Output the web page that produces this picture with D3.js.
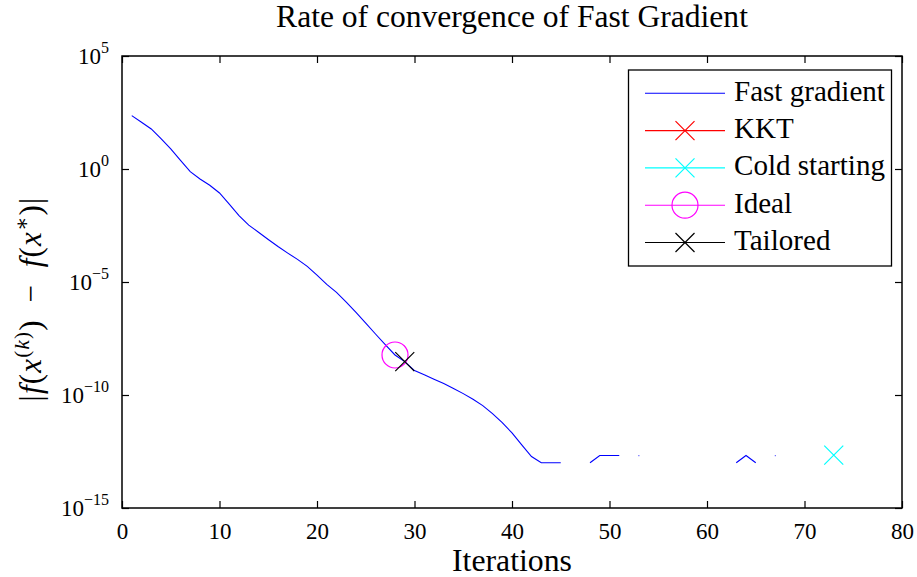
<!DOCTYPE html>
<html>
<head>
<meta charset="utf-8">
<script src="https://cdn.jsdelivr.net/npm/d3@7"></script>
<style>
  html, body { margin: 0; padding: 0; background: #fff; }
  svg text { font-family: "Liberation Serif", "DejaVu Serif", serif; fill: #000; }
</style>
</head>
<body>
<svg id="chart" width="917" height="577"></svg>
<script>
// Fast gradient error |f(x^(k)) - f(x*)| per iteration (0 = exact hit, not drawable on log axis)
const iterations = d3.range(1, 74);
const fastGradient = [
  229, 117, 59, 22, 7.7, 2.4, 0.76, 0.36, 0.19, 0.087,
  0.028, 8.7e-3, 3.3e-3, 1.6e-3, 7.6e-4, 3.7e-4, 1.9e-4, 1.0e-4, 4.9e-5, 2.0e-5,
  7.8e-6, 3.5e-6, 1.3e-6, 4.5e-7, 1.5e-7, 5.0e-8, 1.7e-8, 5.9e-9, 3.0e-9, 1.2e-9,
  7.8e-10, 5.0e-10, 3.2e-10, 1.95e-10, 1.15e-10, 6.5e-11, 3.4e-11, 1.5e-11, 6.0e-12, 2.1e-12,
  6.2e-13, 1.9e-13, 1.0e-13, 1.0e-13, 1.0e-13, 0, 0, 1.0e-13, 2.1e-13, 2.1e-13,
  2.1e-13, 0, 2.1e-13, 0, 0, 0, 0, 0, 0, 0,
  0, 0, 1.0e-13, 2.1e-13, 1.0e-13, 0, 2.1e-13, 0, 0, 0,
  0, 0, 0
];

// Stopping points found by each criterion
const kktIter = [], kktValue = [];
const coldIter = [73], coldValue = [2.2e-13];
const idealIter = [28], idealValue = [5.9e-9];
const tailoredIter = [29], tailoredValue = [3.0e-9];

const xTicks = [0, 10, 20, 30, 40, 50, 60, 70, 80];
const yTickExps = [5, 0, -5, -10, -15];

const legendNames = ["Fast gradient", "KKT", "Cold starting", "Ideal", "Tailored"];
const legendMarkers = ["none", "x", "x", "o", "x"];
const seriesColors = ["#0000ff", "#ff0000", "#00ffff", "#ff00ff", "#000000"];

const svg = d3.select("#chart");
const plotLeft = 122, plotRight = 902, plotTop = 56, plotBottom = 508;

const x = d3.scaleLinear().domain([0, 80]).range([plotLeft, plotRight]);
const y = d3.scaleLog().domain([1e-15, 1e5]).range([plotBottom, plotTop]);

function fitWidth(sel, w) {
  const len = sel.node().getComputedTextLength();
  const fs = parseFloat(sel.attr("font-size"));
  sel.attr("font-size", fs * w / len);
}

// Title
const title = svg.append("text")
  .attr("x", (plotLeft + plotRight) / 2).attr("y", 27)
  .attr("text-anchor", "middle").attr("font-size", 22)
  .text("Rate of convergence of Fast Gradient");
fitWidth(title, 472);

// Axes with inward ticks
const tickLen = 7;
svg.append("g").attr("transform", `translate(0,${plotBottom})`)
  .call(d3.axisBottom(x).tickValues(xTicks).tickSize(-tickLen).tickPadding(29).tickFormat(d3.format("d")))
  .call(g => g.select(".domain").remove())
  .call(g => g.selectAll("line").attr("stroke", "#000").attr("stroke-width", 1.2))
  .call(g => g.selectAll("text").attr("font-size", 23).attr("font-family", "Liberation Serif").attr("fill", "#000").attr("dy", "0.1em"));
svg.append("g").attr("transform", `translate(0,${plotTop})`)
  .call(d3.axisTop(x).tickValues(xTicks).tickSize(-tickLen).tickFormat(""))
  .call(g => g.select(".domain").remove())
  .call(g => g.selectAll("line").attr("stroke", "#000").attr("stroke-width", 1.2));

const yTickVals = yTickExps.map(e => Math.pow(10, e));
svg.append("g").attr("transform", `translate(${plotLeft},0)`)
  .call(d3.axisLeft(y).tickValues(yTickVals).tickSize(-tickLen).tickFormat(""))
  .call(g => g.select(".domain").remove())
  .call(g => g.selectAll("line").attr("stroke", "#000").attr("stroke-width", 1.2));
svg.append("g").attr("transform", `translate(${plotRight},0)`)
  .call(d3.axisRight(y).tickValues(yTickVals).tickSize(-tickLen).tickFormat(""))
  .call(g => g.select(".domain").remove())
  .call(g => g.selectAll("line").attr("stroke", "#000").attr("stroke-width", 1.2));

// Y tick labels as 10^e
yTickExps.forEach(e => {
  const t = svg.append("text")
    .attr("x", 109).attr("y", y(Math.pow(10, e)) + 7.5)
    .attr("text-anchor", "end").attr("font-size", 23);
  t.append("tspan").text("10");
  t.append("tspan").attr("dy", -11).attr("font-size", 16).text(e < 0 ? "\u2212" + (-e) : String(e));
});

// Frame
svg.append("rect")
  .attr("x", plotLeft).attr("y", plotTop).attr("width", plotRight - plotLeft).attr("height", plotBottom - plotTop)
  .attr("fill", "none").attr("stroke", "#000").attr("stroke-width", 1.5);

// X label
const xl = svg.append("text")
  .attr("x", (plotLeft + plotRight) / 2).attr("y", 571)
  .attr("text-anchor", "middle").attr("font-size", 24)
  .text("Iterations");
fitWidth(xl, 120);

// Y label: |f(x^(k)) - f(x^*)|
const ylSize = 31, ylSup = 21, ylRise = 12;
const yl = svg.append("text")
  .attr("transform", "translate(41,299) rotate(-90)")
  .attr("text-anchor", "middle").attr("font-size", ylSize)
  .attr("letter-spacing", 1.2);
yl.append("tspan").text("|");
yl.append("tspan").attr("font-style", "italic").text("f");
yl.append("tspan").text("(");
yl.append("tspan").attr("font-style", "italic").text("x");
yl.append("tspan").attr("dy", -ylRise).attr("font-size", ylSup).text("(");
yl.append("tspan").attr("font-size", ylSup).attr("font-style", "italic").text("k");
yl.append("tspan").attr("font-size", ylSup).text(")");
yl.append("tspan").attr("dy", ylRise).text(")\u2002\u2212\u2002");
yl.append("tspan").attr("font-style", "italic").text("f");
yl.append("tspan").text("(");
yl.append("tspan").attr("font-style", "italic").text("x");
yl.append("tspan").attr("dy", -ylRise).attr("font-size", ylSup).text("\u2217");
yl.append("tspan").attr("dy", ylRise).text(")|");

// Fast gradient curve (breaks where the error is exactly zero)
const fgData = iterations.map((k, i) => ({ k, v: fastGradient[i] }));
const plot = svg.append("g");
plot.append("path")
  .datum(fgData)
  .attr("fill", "none").attr("stroke", seriesColors[0]).attr("stroke-width", 1.1)
  .attr("d", d3.line().defined(d => d.v > 0).x(d => x(d.k)).y(d => y(d.v)));
// isolated nonzero iterates show as specks
fgData.forEach((d, i) => {
  const prev = fgData[i - 1], next = fgData[i + 1];
  if (d.v > 0 && (!prev || prev.v <= 0) && (!next || next.v <= 0)) {
    plot.append("rect").attr("x", x(d.k) - 0.5).attr("y", y(d.v) - 0.5)
      .attr("width", 1.2).attr("height", 1.2).attr("fill", seriesColors[0]).attr("opacity", 0.6);
  }
});

function drawMarker(g, type, cx, cy, color) {
  if (type === "x") {
    const s = 9.5;
    g.append("path")
      .attr("d", `M${cx - s},${cy - s}L${cx + s},${cy + s}M${cx - s},${cy + s}L${cx + s},${cy - s}`)
      .attr("stroke", color).attr("stroke-width", 1.2).attr("fill", "none");
  } else if (type === "o") {
    g.append("circle").attr("cx", cx).attr("cy", cy).attr("r", 13)
      .attr("stroke", color).attr("stroke-width", 1.2).attr("fill", "none");
  }
}

const pointSeries = [
  { it: kktIter, v: kktValue, m: "x", c: seriesColors[1] },
  { it: coldIter, v: coldValue, m: "x", c: seriesColors[2] },
  { it: idealIter, v: idealValue, m: "o", c: seriesColors[3] },
  { it: tailoredIter, v: tailoredValue, m: "x", c: seriesColors[4] }
];
pointSeries.forEach(s => s.it.forEach((k, i) => drawMarker(plot, s.m, x(k), y(s.v[i]), s.c)));

// Legend
const lg = svg.append("g");
lg.append("rect").attr("x", 628.5).attr("y", 70).attr("width", 263).attr("height", 196)
  .attr("fill", "#fff").attr("stroke", "#000").attr("stroke-width", 1.3);
let legendFont = 22;
legendNames.forEach((name, i) => {
  const cy = 93.3 + i * 37.3;
  lg.append("line").attr("x1", 645).attr("x2", 725).attr("y1", cy).attr("y2", cy)
    .attr("stroke", seriesColors[i]).attr("stroke-width", 1.1);
  drawMarker(lg, legendMarkers[i], 685, cy, seriesColors[i]);
  const t = lg.append("text").attr("x", 734).attr("y", cy + 7.5)
    .attr("font-size", legendFont).text(name);
  if (i === 0) { fitWidth(t, 151); legendFont = parseFloat(t.attr("font-size")); }
});
</script>
</body>
</html>
